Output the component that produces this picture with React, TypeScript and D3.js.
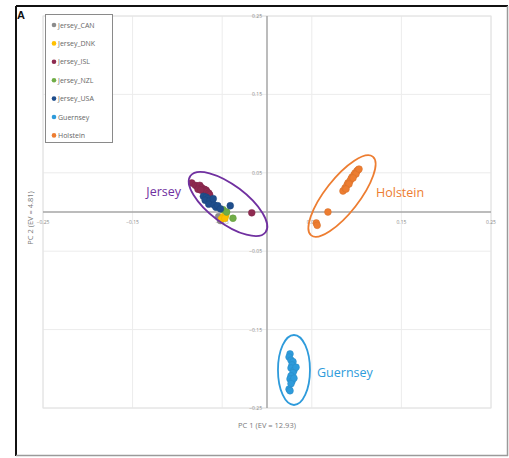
import React, { useEffect, useRef } from "react";
import * as d3 from "d3";

const W = 509;
const H = 458;

const xTicks = [-0.25, -0.15, -0.05, 0.05, 0.15, 0.25];
const yTicks = [-0.25, -0.15, -0.05, 0.05, 0.15, 0.25];

const seriesNames = ["Jersey_CAN", "Jersey_DNK", "Jersey_ISL", "Jersey_NZL", "Jersey_USA", "Guernsey", "Holstein"];
const seriesColors = ["#8c8c8c", "#ffc000", "#8e2a50", "#70ad47", "#1f4e8c", "#2e9bdb", "#ed7d31"];

const jerseyCAN: [number, number][] = [[-0.052, -0.011], [-0.054, -0.006]];
const jerseyDNK: [number, number][] = [[-0.049, -0.006], [-0.046, -0.004], [-0.051, -0.009], [-0.047, -0.008]];
const jerseyISL: [number, number][] = [
  [-0.084, 0.037], [-0.080, 0.034], [-0.078, 0.033], [-0.076, 0.032], [-0.075, 0.034], [-0.073, 0.031],
  [-0.070, 0.029], [-0.068, 0.028], [-0.071, 0.027], [-0.067, 0.026], [-0.065, 0.024], [-0.064, 0.022],
  [-0.077, 0.029], [-0.074, 0.028], [-0.017, -0.001],
];
const jerseyNZL: [number, number][] = [[-0.049, 0.003], [-0.038, -0.008], [-0.045, 0.0]];
const jerseyUSA: [number, number][] = [
  [-0.071, 0.020], [-0.068, 0.019], [-0.066, 0.017], [-0.069, 0.015], [-0.064, 0.014], [-0.061, 0.011],
  [-0.065, 0.010], [-0.059, 0.009], [-0.057, 0.006], [-0.055, 0.008], [-0.060, 0.017], [-0.041, 0.008],
  [-0.052, 0.004],
];
const guernsey: [number, number][] = [
  [0.0257, -0.181], [0.0246, -0.185], [0.0268, -0.189], [0.029, -0.191], [0.0279, -0.195], [0.0268, -0.199],
  [0.0301, -0.202], [0.0324, -0.198], [0.029, -0.205], [0.0268, -0.209], [0.0257, -0.213], [0.0279, -0.216],
  [0.0301, -0.212], [0.0268, -0.219], [0.0246, -0.226], [0.0257, -0.228],
];
const holstein: [number, number][] = [
  [0.0848, 0.0268], [0.0871, 0.0306], [0.0893, 0.0344], [0.0904, 0.037], [0.0926, 0.0395], [0.0938, 0.0421],
  [0.0949, 0.0446], [0.0971, 0.0472], [0.0982, 0.0497], [0.1004, 0.0523], [0.1016, 0.0536], [0.0993, 0.0485],
  [0.0915, 0.0357], [0.0882, 0.0293], [0.096, 0.0434], [0.1027, 0.0548], [0.068, 0.0], [0.055, -0.014],
  [0.056, -0.017],
];
const seriesData = [jerseyCAN, jerseyDNK, jerseyISL, jerseyNZL, jerseyUSA, guernsey, holstein];

// cluster annotations: label, center (data units)
const groupLabels = ["Jersey", "Holstein", "Guernsey"];
const groupCenters: [number, number][] = [[-0.0435, 0.0102], [0.0837, 0.0204], [0.0301, -0.2015]];
const groupColors = ["#7030a0", "#ed7d31", "#2e9bdb"];

export default function App() {
  const ref = useRef<SVGSVGElement>(null);

  useEffect(() => {
    const svg = d3.select(ref.current);
    svg.selectAll("*").remove();

    const left = 43, right = 491, top = 16, bottom = 408;
    const x = d3.scaleLinear().domain([-0.25, 0.25]).range([left, right]);
    const y = d3.scaleLinear().domain([-0.25, 0.25]).range([bottom, top]);
    const font = "'Open Sans', 'DejaVu Sans', sans-serif";

    svg.append("rect").attr("width", W).attr("height", H).attr("fill", "#fff");

    // frame
    svg.append("line").attr("x1", 16).attr("x2", 16).attr("y1", 6).attr("y2", 456).attr("stroke", "#111").attr("stroke-width", 2);
    svg.append("line").attr("x1", 16).attr("x2", 508).attr("y1", 6).attr("y2", 6).attr("stroke", "#111").attr("stroke-width", 2);
    svg.append("line").attr("x1", 507.5).attr("x2", 507.5).attr("y1", 6).attr("y2", 456).attr("stroke", "#9a9a9a").attr("stroke-width", 1.5);
    svg.append("line").attr("x1", 16).attr("x2", 508).attr("y1", 455.5).attr("y2", 455.5).attr("stroke", "#9a9a9a").attr("stroke-width", 1.5);

    svg.append("text").attr("x", 17).attr("y", 18.5).attr("font-family", "Arial, 'Liberation Sans', sans-serif")
      .attr("font-weight", "bold").attr("font-size", 11).attr("fill", "#111").text("A");

    // gridlines
    const g = svg.append("g");
    g.selectAll("line.gx").data(xTicks).join("line")
      .attr("x1", (d) => x(d)).attr("x2", (d) => x(d)).attr("y1", top).attr("y2", bottom)
      .attr("stroke", "#ececec").attr("stroke-width", 1);
    g.selectAll("line.gy").data(yTicks).join("line")
      .attr("y1", (d) => y(d)).attr("y2", (d) => y(d)).attr("x1", left).attr("x2", right)
      .attr("stroke", "#ececec").attr("stroke-width", 1);
    g.append("rect").attr("x", left).attr("y", top).attr("width", right - left).attr("height", bottom - top)
      .attr("fill", "none").attr("stroke", "#e2e2e2");

    // axes
    svg.append("line").attr("x1", left).attr("x2", right).attr("y1", y(0)).attr("y2", y(0))
      .attr("stroke", "#a6a6a6").attr("stroke-width", 1.5);
    svg.append("line").attr("x1", x(0)).attr("x2", x(0)).attr("y1", top).attr("y2", bottom)
      .attr("stroke", "#a6a6a6").attr("stroke-width", 1.5);

    // tick labels
    svg.selectAll("text.xt").data(xTicks).join("text")
      .attr("x", (d) => x(d)).attr("y", y(0) + 12).attr("text-anchor", "middle")
      .attr("font-family", font).attr("font-size", 5).attr("fill", "#8a8a8a")
      .text((d) => d3.format(".2f")(d));
    svg.selectAll("text.yt").data(yTicks).join("text")
      .attr("x", x(0) - 5).attr("y", (d) => y(d) + 2).attr("text-anchor", "end")
      .attr("font-family", font).attr("font-size", 5).attr("fill", "#8a8a8a")
      .text((d) => d3.format(".2f")(d));

    // axis titles
    svg.append("text").attr("x", x(0)).attr("y", 428).attr("text-anchor", "middle")
      .attr("font-family", font).attr("font-size", 7.5).attr("fill", "#7a7a7a").text("PC 1 (EV = 12.93)");
    svg.append("text").attr("transform", `translate(33,${y(0) + 6}) rotate(-90)`).attr("text-anchor", "middle")
      .attr("font-family", font).attr("font-size", 7.5).attr("fill", "#7a7a7a").text("PC 2 (EV = 4.81)");

    // points
    seriesData.forEach((pts, i) => {
      svg.append("g").selectAll("circle").data(pts).join("circle")
        .attr("cx", (d) => x(d[0])).attr("cy", (d) => y(d[1])).attr("r", 3.4)
        .attr("fill", seriesColors[i]).attr("stroke", d3.color(seriesColors[i])!.darker(0.3).toString())
        .attr("stroke-width", 0.5);
    });

    // ellipses
    const ellipseAxes: [number, number, number][] = [[47, 19, 37], [50, 17, -52], [16, 35, 0]];
    groupCenters.forEach((c, i) => {
      const [a, b, ang] = ellipseAxes[i];
      svg.append("ellipse")
        .attr("transform", `translate(${x(c[0])},${y(c[1])}) rotate(${ang})`)
        .attr("rx", a).attr("ry", b).attr("fill", "none")
        .attr("stroke", groupColors[i]).attr("stroke-width", 1.8);
    });

    // group labels
    const labelPos: [number, number, string][] = [[x(groupCenters[0][0]) - 47, 196, "end"], [376, 197, "start"], [317, 377, "start"]];
    groupLabels.forEach((t, i) => {
      svg.append("text").attr("x", labelPos[i][0]).attr("y", labelPos[i][1]).attr("text-anchor", labelPos[i][2])
        .attr("font-family", font).attr("font-size", 12.5).attr("fill", groupColors[i]).text(t);
    });

    // legend
    const lg = svg.append("g");
    lg.append("rect").attr("x", 45.5).attr("y", 14.5).attr("width", 67).attr("height", 128)
      .attr("fill", "#fff").attr("stroke", "#8a8a8a").attr("stroke-width", 1);
    seriesNames.forEach((n, i) => {
      const yy = 25 + i * 18.4;
      lg.append("circle").attr("cx", 54).attr("cy", yy).attr("r", 2.3).attr("fill", seriesColors[i]);
      lg.append("text").attr("x", 58).attr("y", yy + 2.5).attr("font-family", font).attr("font-size", 7)
        .attr("fill", "#666").text(n);
    });
  }, []);

  return (
    <div style={{ position: "absolute", left: 0, top: 0 }}>
      <svg ref={ref} width={W} height={H} style={{ display: "block" }} />
    </div>
  );
}
